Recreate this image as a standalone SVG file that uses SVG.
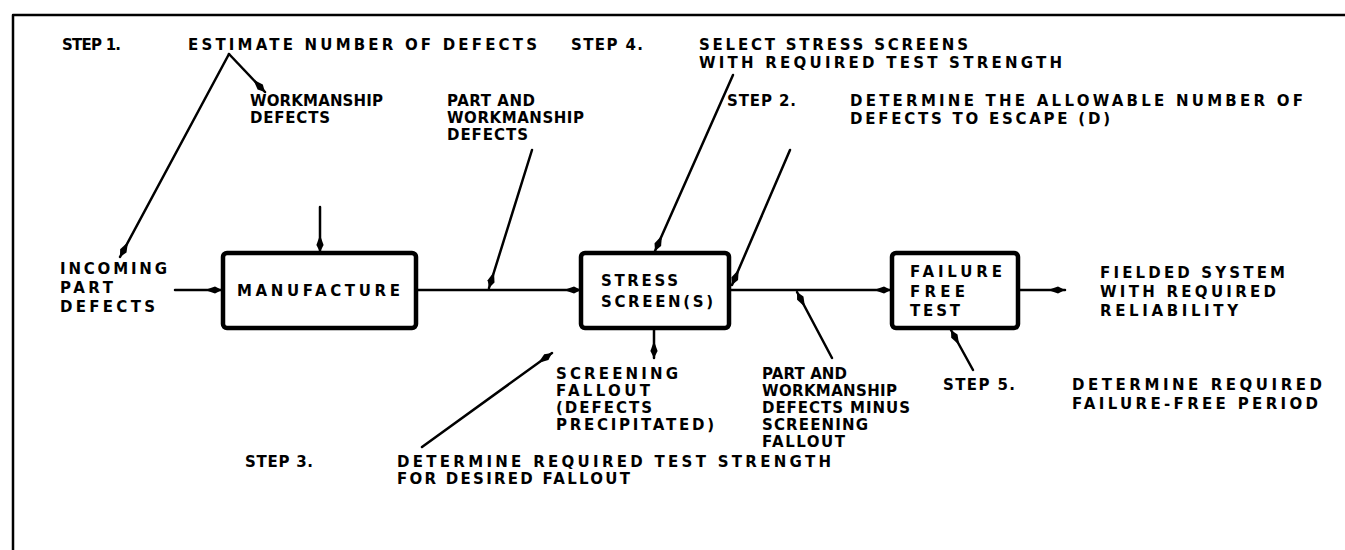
<svg xmlns="http://www.w3.org/2000/svg" width="1345" height="550" viewBox="0 0 1345 550">
<defs>
<style>
text{font-family:"DejaVu Sans","Liberation Sans",Arial,sans-serif;font-weight:bold;font-size:15px;fill:#000}
.box{fill:#fff;stroke:#000;stroke-width:4.5}
.ln{fill:none;stroke:#000;stroke-width:2.5;stroke-linecap:round;stroke-linejoin:round}
.arr{marker-end:url(#ah)}
</style>
<marker id="ah" viewBox="-18 -5 19 10" refX="0" refY="0" markerWidth="19" markerHeight="10" markerUnits="userSpaceOnUse" orient="auto">
<path d="M0,0 L-7,-3.6 L-17,0 L-7,3.6 Z" fill="#000"/>
</marker>
</defs>
<rect width="1345" height="550" fill="#fff"/>
<g id="frame">
<path class="ln" d="M13,550 L13,15 L1345,15" stroke-width="3"/>
</g>

<g id="connectors">
<path class="ln arr" d="M229,54 L265,92"/>
<path class="ln arr" d="M229,54 L120,257"/>
<path class="ln arr" d="M320,207 L320,252"/>
<path class="ln arr" d="M175,290 L222,290"/>
<path class="ln arr" d="M416,290 L581,290"/>
<path class="ln arr" d="M532,150 L489,288"/>
<path class="ln arr" d="M733,75 L655,251"/>
<path class="ln arr" d="M790,150 L732,285"/>
<path class="ln arr" d="M654,328 L654,358"/>
<path class="ln arr" d="M729,290 L891,290"/>
<path class="ln arr" d="M832,358 L797,292"/>
<path class="ln arr" d="M1018,290 L1065,290"/>
<path class="ln arr" d="M973,370 L951,330"/>
<path class="ln arr" d="M422,447 L552,353"/>
</g>

<g id="step1">
<text x="62" y="50" textLength="59" lengthAdjust="spacing">STEP 1.</text>
<text x="188" y="50" textLength="349" lengthAdjust="spacing">ESTIMATE NUMBER OF DEFECTS</text>
</g>
<g id="step4">
<text x="571" y="50" textLength="72" lengthAdjust="spacing">STEP 4.</text>
<text x="699" y="50" textLength="269" lengthAdjust="spacing">SELECT STRESS SCREENS</text>
<text x="699" y="68" textLength="363" lengthAdjust="spacing">WITH REQUIRED TEST STRENGTH</text>
</g>
<g id="workmanship-defects">
<text x="250" y="106" textLength="133" lengthAdjust="spacing">WORKMANSHIP</text>
<text x="250" y="123" textLength="80" lengthAdjust="spacing">DEFECTS</text>
</g>
<g id="part-workmanship-defects">
<text x="447" y="106" textLength="88" lengthAdjust="spacing">PART AND</text>
<text x="447" y="123" textLength="137" lengthAdjust="spacing">WORKMANSHIP</text>
<text x="447" y="140" textLength="81" lengthAdjust="spacing">DEFECTS</text>
</g>
<g id="step2">
<text x="727" y="106" textLength="69" lengthAdjust="spacing">STEP 2.</text>
<text x="850" y="106" textLength="453" lengthAdjust="spacing">DETERMINE THE ALLOWABLE NUMBER OF</text>
<text x="850" y="124" textLength="260" lengthAdjust="spacing">DEFECTS TO ESCAPE (D)</text>
</g>
<g id="incoming">
<text x="60" y="274" textLength="107" lengthAdjust="spacing">INCOMING</text>
<text x="60" y="293" textLength="53" lengthAdjust="spacing">PART</text>
<text x="60" y="312" textLength="95" lengthAdjust="spacing">DEFECTS</text>
</g>
<g id="manufacture">
<rect class="box" x="223" y="253" width="193" height="75" rx="4"/>
<text x="237" y="296" textLength="163" lengthAdjust="spacing">MANUFACTURE</text>
</g>
<g id="stress-screen">
<rect class="box" x="581" y="253" width="148" height="75" rx="4"/>
<text x="601" y="286" textLength="77" lengthAdjust="spacing">STRESS</text>
<text x="601" y="307" textLength="112" lengthAdjust="spacing">SCREEN(S)</text>
</g>
<g id="failure-free-test">
<rect class="box" x="892" y="253" width="126" height="75" rx="4"/>
<text x="910" y="277" textLength="92" lengthAdjust="spacing">FAILURE</text>
<text x="910" y="297" textLength="55" lengthAdjust="spacing">FREE</text>
<text x="910" y="316" textLength="50" lengthAdjust="spacing">TEST</text>
</g>
<g id="fielded">
<text x="1100" y="278" textLength="185" lengthAdjust="spacing">FIELDED SYSTEM</text>
<text x="1100" y="297" textLength="176" lengthAdjust="spacing">WITH REQUIRED</text>
<text x="1100" y="316" textLength="138" lengthAdjust="spacing">RELIABILITY</text>
</g>
<g id="fallout">
<text x="556" y="379" textLength="122" lengthAdjust="spacing">SCREENING</text>
<text x="556" y="396" textLength="94" lengthAdjust="spacing">FALLOUT</text>
<text x="556" y="413" textLength="96" lengthAdjust="spacing">(DEFECTS</text>
<text x="556" y="430" textLength="158" lengthAdjust="spacing">PRECIPITATED)</text>
</g>
<g id="minus">
<text x="762" y="379" textLength="85" lengthAdjust="spacing">PART AND</text>
<text x="762" y="396" textLength="135" lengthAdjust="spacing">WORKMANSHIP</text>
<text x="762" y="413" textLength="148" lengthAdjust="spacing">DEFECTS MINUS</text>
<text x="762" y="430" textLength="106" lengthAdjust="spacing">SCREENING</text>
<text x="762" y="447" textLength="83" lengthAdjust="spacing">FALLOUT</text>
</g>
<g id="step5">
<text x="943" y="390" textLength="72" lengthAdjust="spacing">STEP 5.</text>
<text x="1072" y="390" textLength="250" lengthAdjust="spacing">DETERMINE REQUIRED</text>
<text x="1072" y="409" textLength="246" lengthAdjust="spacing">FAILURE-FREE PERIOD</text>
</g>
<g id="step3">
<text x="245" y="467" textLength="68" lengthAdjust="spacing">STEP 3.</text>
<text x="397" y="467" textLength="434" lengthAdjust="spacing">DETERMINE REQUIRED TEST STRENGTH</text>
<text x="397" y="484" textLength="233" lengthAdjust="spacing">FOR DESIRED FALLOUT</text>
</g>
</svg>
